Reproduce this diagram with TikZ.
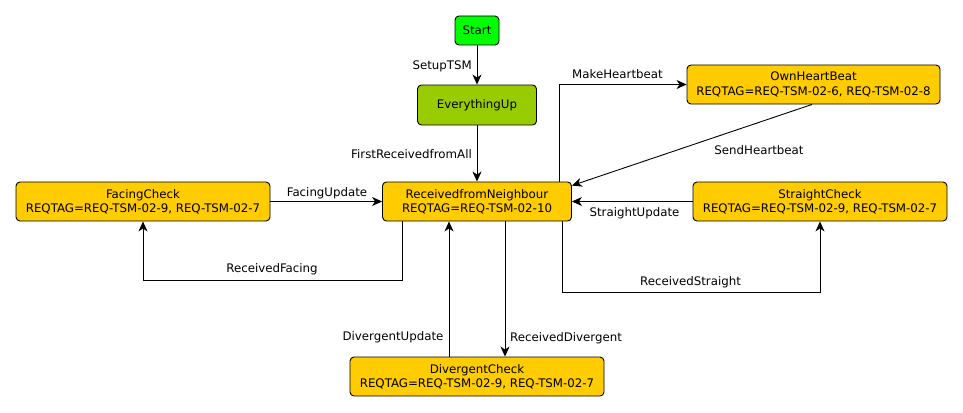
\documentclass[tikz,border=0pt]{standalone}
\usepackage{fontspec}
\setmainfont{DejaVu Sans}
\usetikzlibrary{arrows.meta}
\definecolor{startgreen}{HTML}{00FF00}
\definecolor{upgreen}{HTML}{99CC00}
\definecolor{stateyellow}{HTML}{FFCC00}
\begin{document}
\begin{tikzpicture}[x=1pt,y=-1pt,
  every node/.style={font=\fontsize{11.8}{14.3}\selectfont},
  state/.style={draw=black, line width=0.9pt, rounded corners=4pt, fill=stateyellow,
    inner sep=0pt, align=center, anchor=center},
  lbl/.style={inner sep=0pt},
  conn/.style={draw=black, line width=0.9pt, -{Stealth[length=10pt,width=9pt,inset=3pt]}}
]
\useasboundingbox (0,0) rectangle (963,412);
% states
\node[state, fill=startgreen, minimum width=44pt, minimum height=29pt] (start) at (477,30.5) {Start};
\node[state, fill=upgreen, minimum width=119pt, minimum height=40pt] (eu) at (477,105) {EverythingUp};
\node[state, minimum width=189pt, minimum height=39pt] (rfn) at (477,201.5) {ReceivedfromNeighbour\\REQTAG=REQ-TSM-02-10};
\node[state, minimum width=254pt, minimum height=39pt] (fc) at (143,201.5) {FacingCheck\\REQTAG=REQ-TSM-02-9, REQ-TSM-02-7};
\node[state, minimum width=253pt, minimum height=39pt] (ohb) at (813.5,84.5) {OwnHeartBeat\\REQTAG=REQ-TSM-02-6, REQ-TSM-02-8};
\node[state, minimum width=254pt, minimum height=39pt] (sc) at (820,201.5) {StraightCheck\\REQTAG=REQ-TSM-02-9, REQ-TSM-02-7};
\node[state, minimum width=254pt, minimum height=39pt] (dc) at (477,376.5) {DivergentCheck\\REQTAG=REQ-TSM-02-9, REQ-TSM-02-7};
% connectors
\draw[conn] (start.south) -- (eu.north);
\draw[conn] (eu.south) -- (rfn.north);
\draw[conn] (fc.east) -- (rfn.west);
\draw[conn] ([xshift=20pt]rfn.south west) -- ++(0,59) -| (fc.south);
\draw[conn] ([xshift=-13pt]rfn.north east) |- (ohb.west);
\draw[conn] ([xshift=-1.5pt]ohb.south) -- ([yshift=-4pt]rfn.north east);
\draw[conn] (sc.west) -- (rfn.east);
\draw[conn] ([xshift=-10pt]rfn.south east) -- ++(0,71) -| (sc.south);
\draw[conn] ([xshift=-28pt]dc.north) -- ([xshift=-28pt]rfn.south);
\draw[conn] ([xshift=28pt]rfn.south) -- ([xshift=28pt]dc.north);
% labels
\node[lbl, anchor=east] (lsetup) at (472,66) {SetupTSM};
\node[lbl, anchor=east] (lfirst) at (472,154) {FirstReceivedfromAll};
\node[lbl] (lfu) at (327,193.5) {FacingUpdate};
\node[lbl] (lrf) at (272,269.5) {ReceivedFacing};
\node[lbl] (lmh) at (617.5,74.5) {MakeHeartbeat};
\node[lbl] (lsh) at (759,150) {SendHeartbeat};
\node[lbl] (lsu) at (634.5,213) {StraightUpdate};
\node[lbl] (lrs) at (690.5,282) {ReceivedStraight};
\node[lbl] (ldu) at (393,337.7) {DivergentUpdate};
\node[lbl] (lrd) at (566,338) {ReceivedDivergent};
\end{tikzpicture}
\end{document}
